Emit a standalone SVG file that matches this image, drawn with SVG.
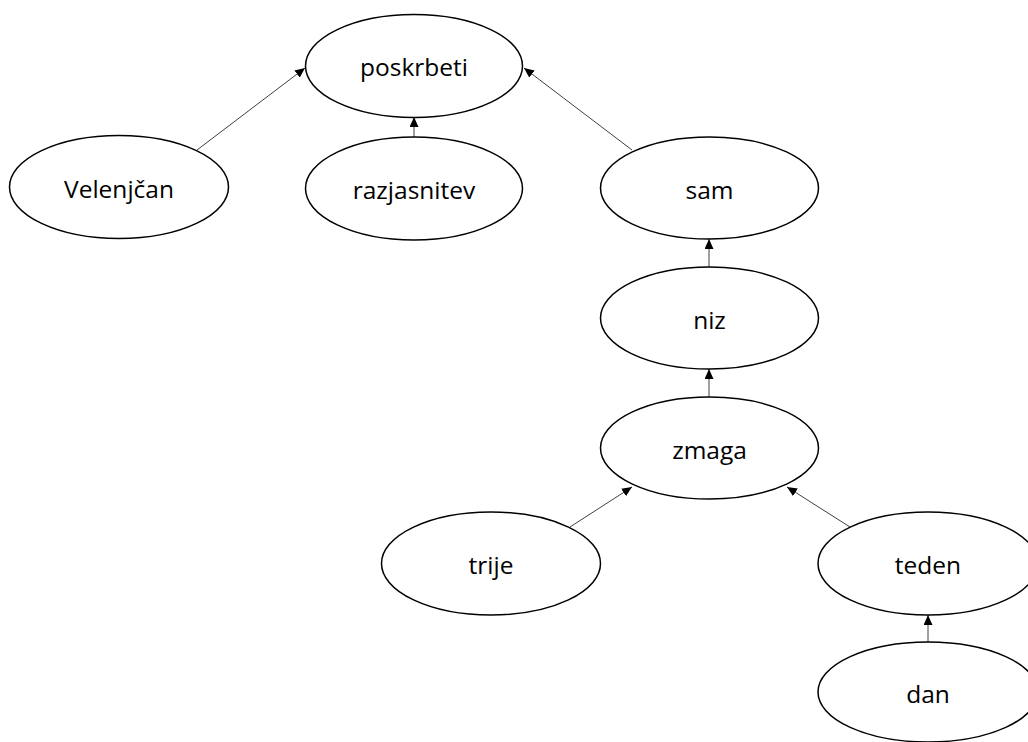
<svg xmlns="http://www.w3.org/2000/svg" width="1028" height="742" viewBox="0 0 1028 742">
  <style>
    .node ellipse { fill: #ffffff; stroke: #000000; stroke-width: 1.5; }
    .node text { font-family: "Open Sans", "Lato", "Liberation Sans", sans-serif; font-size: 24.5px; fill: #000000; text-anchor: middle; }
    .edge { stroke: #404040; stroke-width: 1; fill: none; marker-end: url(#arrow); }
  </style>
  <defs>
    <marker id="arrow" markerUnits="userSpaceOnUse" markerWidth="10" markerHeight="9" refX="10" refY="4.5" orient="auto">
      <path d="M0,0 L10,4.5 L0,9 Z" fill="#000000"/>
    </marker>
  </defs>
  <rect width="1028" height="742" fill="#ffffff"/>

  <g id="connectors">
    <line class="edge" x1="197" y1="150" x2="305" y2="68"/>
    <line class="edge" x1="414" y1="137" x2="414" y2="117"/>
    <line class="edge" x1="632" y1="150" x2="524" y2="68"/>
    <line class="edge" x1="709" y1="267" x2="709" y2="239"/>
    <line class="edge" x1="709" y1="397" x2="709" y2="369"/>
    <line class="edge" x1="570" y1="527" x2="632" y2="487"/>
    <line class="edge" x1="850" y1="527" x2="787" y2="487"/>
    <line class="edge" x1="928" y1="642" x2="928" y2="615"/>
  </g>

  <g id="poskrbeti" class="node">
    <ellipse cx="414" cy="66" rx="108.5" ry="51.5"/>
    <text x="414" y="76">poskrbeti</text>
  </g>
  <g id="velenjcan" class="node">
    <ellipse cx="119" cy="187" rx="109.5" ry="51.5"/>
    <text x="119" y="197.5">Velenjčan</text>
  </g>
  <g id="razjasnitev" class="node">
    <ellipse cx="414" cy="188.5" rx="108.5" ry="51.5"/>
    <text x="414" y="199">razjasnitev</text>
  </g>
  <g id="sam" class="node">
    <ellipse cx="709.5" cy="188" rx="109" ry="51"/>
    <text x="709.5" y="198.5">sam</text>
  </g>
  <g id="niz" class="node">
    <ellipse cx="709.5" cy="318" rx="109" ry="51"/>
    <text x="709.5" y="328.5">niz</text>
  </g>
  <g id="zmaga" class="node">
    <ellipse cx="709.5" cy="448" rx="109" ry="51"/>
    <text x="709.5" y="458.5">zmaga</text>
  </g>
  <g id="trije" class="node">
    <ellipse cx="491" cy="563.5" rx="109.5" ry="51.5"/>
    <text x="491" y="574">trije</text>
  </g>
  <g id="teden" class="node">
    <ellipse cx="928" cy="563.5" rx="110" ry="51.5"/>
    <text x="928" y="574">teden</text>
  </g>
  <g id="dan" class="node">
    <ellipse cx="928" cy="692" rx="110" ry="50"/>
    <text x="928" y="702.5">dan</text>
  </g>
</svg>
